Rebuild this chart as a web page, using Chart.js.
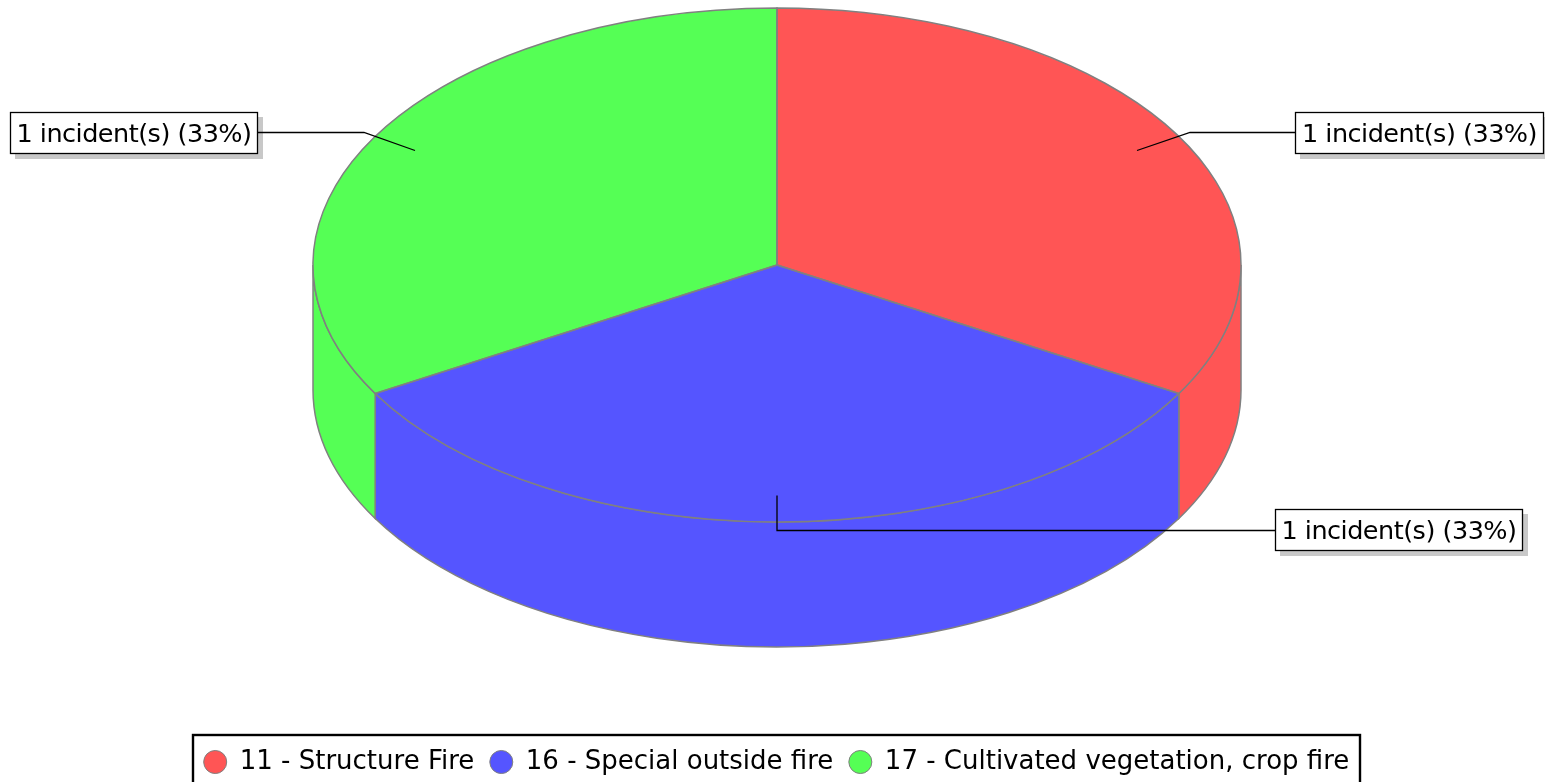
<!DOCTYPE html>
<html><head><meta charset="utf-8">
<style>html,body{margin:0;padding:0;background:#fff;overflow:hidden}#w{position:relative;width:1545px;height:782px}</style>
<script src="https://cdn.jsdelivr.net/npm/chart.js@4"></script>
</head><body><div id="w"><canvas id="c" width="1545" height="782"></canvas></div>
<script>
const categories = ["11 - Structure Fire", "16 - Special outside fire", "17 - Cultivated vegetation, crop fire"];
const incidents = [1, 1, 1];
const percents = [33, 33, 33];
const colors = ["#FF5555", "#5555FF", "#55FF55"];
const FONT = '"DejaVu Sans"';
const LABEL_SIZE = 25.5;
const LEGEND_SIZE = 26;
const geo = {cx: 777, cy: 265, rx: 464, ry: 257, depth: 125};
const edge = "#808080";
const callouts = [
  {box: [1295, 112, 249, 42], line: [[1137,150],[1190,132],[1295,132]]},
  {box: [1275, 509, 248, 42], line: [[777,495],[777,530],[1275,530]]},
  {box: [10, 112, 248, 42], line: [[415,150],[364,132],[258,132]]}
];
const pie3d = {
  id: 'pie3d',
  beforeDraw(chart){ const c=chart.ctx; c.save(); c.fillStyle='#fff'; c.fillRect(0,0,chart.width,chart.height); c.restore(); },
  beforeDatasetsDraw(chart){
    const c = chart.ctx, arcs = chart.getDatasetMeta(0).data, g = geo;
    c.save();
    arcs.forEach((a,i)=>{
      const p = Math.max(a.startAngle,0), q = Math.min(a.endAngle,Math.PI);
      c.beginPath();
      c.ellipse(g.cx,g.cy,g.rx,g.ry,0,p,q);
      c.ellipse(g.cx,g.cy+g.depth,g.rx,g.ry,0,q,p,true);
      c.closePath();
      c.fillStyle = colors[i]; c.fill();
      c.strokeStyle = edge; c.lineWidth = 1.5; c.stroke();
    });
    c.restore();
    const a0 = arcs[0];
    c.save();
    c.translate(g.cx,g.cy);
    c.scale(g.rx/a0.outerRadius, g.ry/a0.outerRadius);
    c.translate(-a0.x,-a0.y);
  },
  afterDatasetsDraw(chart){
    const c = chart.ctx, arcs = chart.getDatasetMeta(0).data, g = geo;
    c.restore();
    c.save();
    c.strokeStyle = edge; c.lineWidth = 1.5;
    arcs.forEach(a=>{
      c.beginPath();
      c.moveTo(g.cx,g.cy);
      c.ellipse(g.cx,g.cy,g.rx,g.ry,0,a.startAngle,a.endAngle);
      c.closePath();
      c.stroke();
    });
    c.restore();
  },
  afterDraw(chart){
    const c = chart.ctx;
    c.save();
    c.strokeStyle = '#000'; c.lineWidth = 2.4;
    c.strokeRect(193,735,1167,60);
    callouts.forEach((o,i)=>{
      const [x,y,w,h] = o.box;
      c.fillStyle = '#c8c8c8'; c.fillRect(x+5,y+5,w,h);
      c.strokeStyle = '#000'; c.lineWidth = 1.3;
      c.beginPath(); o.line.forEach((p,j)=> j? c.lineTo(p[0],p[1]+.5) : c.moveTo(p[0],p[1]+.5)); c.stroke();
      c.fillStyle = '#fff'; c.fillRect(x,y,w,h);
      c.strokeRect(x+.5,y+.5,w-1,h-1);
      c.fillStyle = '#000'; c.font = LABEL_SIZE+'px '+FONT;
      c.letterSpacing = '-0.5px';
      c.textBaseline='middle'; c.textAlign='center';
      c.fillText(incidents[i]+' incident(s) ('+percents[i]+'%)', x+w/2, y+h/2+2);
    });
    c.restore();
  }
};
Chart.defaults.font.family = FONT;
new Chart(document.getElementById('c'),{
  type:'pie',
  data:{labels:categories,datasets:[{data:incidents,backgroundColor:colors,borderWidth:0,clip:false}]},
  plugins:[pie3d],
  options:{
    responsive:false,animation:false,
    layout:{padding:{bottom:-3,left:8}},
    plugins:{
      tooltip:{enabled:false},
      legend:{display:true,position:'bottom',labels:{
        color:'#000',font:{size:LEGEND_SIZE},usePointStyle:true,pointStyle:'circle',pointStyleWidth:23,boxHeight:16.3,padding:15.5,
        generateLabels(chart){
          return Chart.overrides.pie.plugins.legend.labels.generateLabels(chart).map(l=>Object.assign(l,{strokeStyle:edge,lineWidth:1,pointStyle:'circle'}));
        }
      }}
    }
  }
});
</script></body></html>
